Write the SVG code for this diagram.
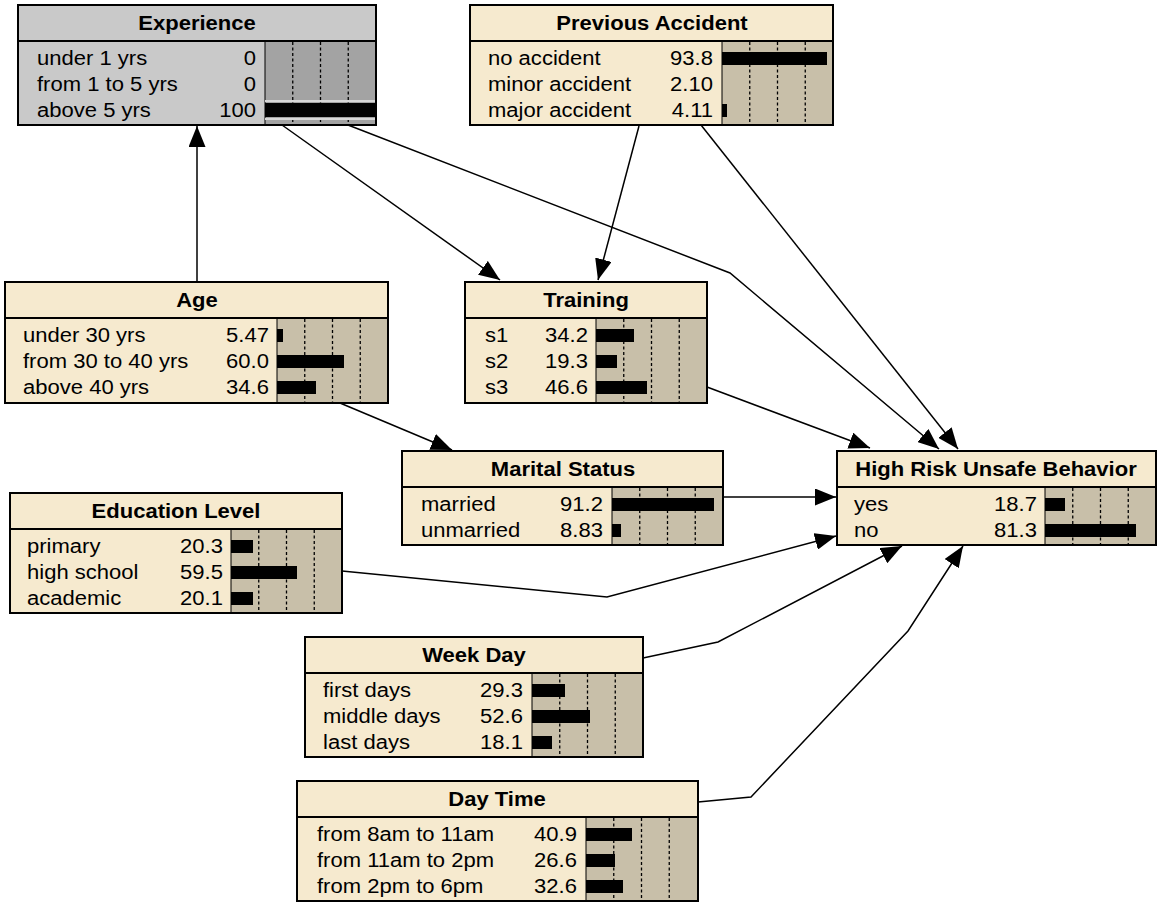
<svg xmlns="http://www.w3.org/2000/svg" width="1164" height="904" viewBox="0 0 1164 904">
<style>
.box{fill:#f6eacf;stroke:#000;stroke-width:2}
.sep{stroke:#000;stroke-width:2}
.bar{fill:#c8bfa9;stroke:#000;stroke-width:1}
.gbox{fill:#c9c9c9;stroke:#000;stroke-width:2}
.gbar{fill:#a3a3a3;stroke:#000;stroke-width:1}
.dash{stroke:#000;stroke-width:1.3;stroke-dasharray:3 2.5}
.fill{fill:#000}
.t{font-family:"Liberation Sans",Arial,Helvetica,sans-serif;font-size:19.5px;fill:#000}
.b{font-weight:bold;text-anchor:middle}
.v{text-anchor:end}
.edge{fill:none;stroke:#000;stroke-width:1.5;marker-end:url(#arr)}
</style>
<defs>
<marker id="arr" viewBox="0 0 21 17" refX="21" refY="8.5" markerWidth="21" markerHeight="17" markerUnits="userSpaceOnUse" orient="auto">
<path d="M0,0 L21,8.5 L0,17 z" fill="#000"/>
</marker>
</defs>
<rect width="1164" height="904" fill="#fff"/>

<g id="connectors">
<path class="edge" d="M197,282 L197,126"/>
<path class="edge" d="M282,125 L500,280"/>
<path class="edge" d="M348,125 L730,273 L939,449"/>
<path class="edge" d="M639,126 L598,280"/>
<path class="edge" d="M701,125 L958,449"/>
<path class="edge" d="M707,387 L870,448"/>
<path class="edge" d="M340,403 L452,450"/>
<path class="edge" d="M723,497 L836,497"/>
<path class="edge" d="M342,571 L607,597 L836,536"/>
<path class="edge" d="M643,658 L718,642 L902,546"/>
<path class="edge" d="M698,802 L751,797 L908,631 L963,546"/>
</g>

<g id="experience">
<rect class="gbox" x="18" y="5" width="358" height="120"/>
<rect class="gbar" x="265" y="41" width="111" height="84"/>
<line class="sep" x1="18" y1="41" x2="376" y2="41"/>
<line class="dash" x1="292.75" y1="42" x2="292.75" y2="124"/>
<line class="dash" x1="320.5" y1="42" x2="320.5" y2="124"/>
<line class="dash" x1="348.25" y1="42" x2="348.25" y2="124"/>
<line x1="265" y1="101" x2="376" y2="101" stroke="#d6d6d6" stroke-width="2"/>
<line x1="265" y1="119" x2="376" y2="119" stroke="#d6d6d6" stroke-width="2"/>
<rect class="fill" x="265" y="103" width="111" height="14"/>
<rect x="18" y="5" width="358" height="120" fill="none" stroke="#000" stroke-width="2"/>
<text class="t b" transform="translate(197,30) scale(1.13,1)">Experience</text>
<text class="t" transform="translate(37,65) scale(1.13,1)">under 1 yrs</text>
<text class="t v" transform="translate(256,65) scale(1.13,1)">0</text>
<text class="t" transform="translate(37,91) scale(1.13,1)">from 1 to 5 yrs</text>
<text class="t v" transform="translate(256,91) scale(1.13,1)">0</text>
<text class="t" transform="translate(37,117) scale(1.13,1)">above 5 yrs</text>
<text class="t v" transform="translate(256,117) scale(1.13,1)">100</text>
</g>

<g id="previous-accident">
<rect class="box" x="470" y="5" width="363" height="120"/>
<rect class="bar" x="722" y="41" width="111" height="84"/>
<line class="sep" x1="470" y1="41" x2="833" y2="41"/>
<line class="dash" x1="749.75" y1="42" x2="749.75" y2="124"/>
<line class="dash" x1="777.5" y1="42" x2="777.5" y2="124"/>
<line class="dash" x1="805.25" y1="42" x2="805.25" y2="124"/>
<rect class="fill" x="722" y="52" width="105" height="13"/>
<rect class="fill" x="722" y="104" width="5" height="13"/>
<rect x="470" y="5" width="363" height="120" fill="none" stroke="#000" stroke-width="2"/>
<text class="t b" transform="translate(652,30) scale(1.13,1)">Previous Accident</text>
<text class="t" transform="translate(488,65) scale(1.13,1)">no accident</text>
<text class="t v" transform="translate(713,65) scale(1.13,1)">93.8</text>
<text class="t" transform="translate(488,91) scale(1.13,1)">minor accident</text>
<text class="t v" transform="translate(713,91) scale(1.13,1)">2.10</text>
<text class="t" transform="translate(488,117) scale(1.13,1)">major accident</text>
<text class="t v" transform="translate(713,117) scale(1.13,1)">4.11</text>
</g>

<g id="age">
<rect class="box" x="5" y="282" width="383" height="121"/>
<rect class="bar" x="277" y="318" width="111" height="85"/>
<line class="sep" x1="5" y1="318" x2="388" y2="318"/>
<line class="dash" x1="304.75" y1="319" x2="304.75" y2="402"/>
<line class="dash" x1="332.5" y1="319" x2="332.5" y2="402"/>
<line class="dash" x1="360.25" y1="319" x2="360.25" y2="402"/>
<rect class="fill" x="277" y="329" width="6" height="13"/>
<rect class="fill" x="277" y="355" width="67" height="13"/>
<rect class="fill" x="277" y="381" width="39" height="13"/>
<rect x="5" y="282" width="383" height="121" fill="none" stroke="#000" stroke-width="2"/>
<text class="t b" transform="translate(197,307) scale(1.13,1)">Age</text>
<text class="t" transform="translate(23,342) scale(1.13,1)">under 30 yrs</text>
<text class="t v" transform="translate(269,342) scale(1.13,1)">5.47</text>
<text class="t" transform="translate(23,368) scale(1.13,1)">from 30 to 40 yrs</text>
<text class="t v" transform="translate(269,368) scale(1.13,1)">60.0</text>
<text class="t" transform="translate(23,394) scale(1.13,1)">above 40 yrs</text>
<text class="t v" transform="translate(269,394) scale(1.13,1)">34.6</text>
</g>

<g id="training">
<rect class="box" x="465" y="282" width="242" height="121"/>
<rect class="bar" x="596" y="318" width="111" height="85"/>
<line class="sep" x1="465" y1="318" x2="707" y2="318"/>
<line class="dash" x1="623.75" y1="319" x2="623.75" y2="402"/>
<line class="dash" x1="651.5" y1="319" x2="651.5" y2="402"/>
<line class="dash" x1="679.25" y1="319" x2="679.25" y2="402"/>
<rect class="fill" x="596" y="329" width="38" height="13"/>
<rect class="fill" x="596" y="355" width="21" height="13"/>
<rect class="fill" x="596" y="381" width="51" height="13"/>
<rect x="465" y="282" width="242" height="121" fill="none" stroke="#000" stroke-width="2"/>
<text class="t b" transform="translate(586,307) scale(1.13,1)">Training</text>
<text class="t" transform="translate(485,342) scale(1.13,1)">s1</text>
<text class="t v" transform="translate(588,342) scale(1.13,1)">34.2</text>
<text class="t" transform="translate(485,368) scale(1.13,1)">s2</text>
<text class="t v" transform="translate(588,368) scale(1.13,1)">19.3</text>
<text class="t" transform="translate(485,394) scale(1.13,1)">s3</text>
<text class="t v" transform="translate(588,394) scale(1.13,1)">46.6</text>
</g>

<g id="marital-status">
<rect class="box" x="402" y="451" width="321" height="94"/>
<rect class="bar" x="612" y="487" width="111" height="58"/>
<line class="sep" x1="402" y1="487" x2="723" y2="487"/>
<line class="dash" x1="639.75" y1="488" x2="639.75" y2="544"/>
<line class="dash" x1="667.5" y1="488" x2="667.5" y2="544"/>
<line class="dash" x1="695.25" y1="488" x2="695.25" y2="544"/>
<rect class="fill" x="612" y="498" width="102" height="13"/>
<rect class="fill" x="612" y="524" width="9" height="13"/>
<rect x="402" y="451" width="321" height="94" fill="none" stroke="#000" stroke-width="2"/>
<text class="t b" transform="translate(563,476) scale(1.13,1)">Marital Status</text>
<text class="t" transform="translate(421,511) scale(1.13,1)">married</text>
<text class="t v" transform="translate(603,511) scale(1.13,1)">91.2</text>
<text class="t" transform="translate(421,537) scale(1.13,1)">unmarried</text>
<text class="t v" transform="translate(603,537) scale(1.13,1)">8.83</text>
</g>

<g id="high-risk-unsafe-behavior">
<rect class="box" x="837" y="451" width="319" height="94"/>
<rect class="bar" x="1045" y="487" width="111" height="58"/>
<line class="sep" x1="837" y1="487" x2="1156" y2="487"/>
<line class="dash" x1="1072.75" y1="488" x2="1072.75" y2="544"/>
<line class="dash" x1="1100.5" y1="488" x2="1100.5" y2="544"/>
<line class="dash" x1="1128.25" y1="488" x2="1128.25" y2="544"/>
<rect class="fill" x="1045" y="498" width="20" height="13"/>
<rect class="fill" x="1045" y="524" width="91" height="13"/>
<rect x="837" y="451" width="319" height="94" fill="none" stroke="#000" stroke-width="2"/>
<text class="t b" transform="translate(996,476) scale(1.13,1)">High Risk Unsafe Behavior</text>
<text class="t" transform="translate(854,511) scale(1.13,1)">yes</text>
<text class="t v" transform="translate(1037,511) scale(1.13,1)">18.7</text>
<text class="t" transform="translate(854,537) scale(1.13,1)">no</text>
<text class="t v" transform="translate(1037,537) scale(1.13,1)">81.3</text>
</g>

<g id="education-level">
<rect class="box" x="10" y="493" width="332" height="120"/>
<rect class="bar" x="231" y="529" width="111" height="84"/>
<line class="sep" x1="10" y1="529" x2="342" y2="529"/>
<line class="dash" x1="258.75" y1="530" x2="258.75" y2="612"/>
<line class="dash" x1="286.5" y1="530" x2="286.5" y2="612"/>
<line class="dash" x1="314.25" y1="530" x2="314.25" y2="612"/>
<rect class="fill" x="231" y="540" width="22" height="13"/>
<rect class="fill" x="231" y="566" width="66" height="13"/>
<rect class="fill" x="231" y="592" width="22" height="13"/>
<rect x="10" y="493" width="332" height="120" fill="none" stroke="#000" stroke-width="2"/>
<text class="t b" transform="translate(176,518) scale(1.13,1)">Education Level</text>
<text class="t" transform="translate(27,553) scale(1.13,1)">primary</text>
<text class="t v" transform="translate(223,553) scale(1.13,1)">20.3</text>
<text class="t" transform="translate(27,579) scale(1.13,1)">high school</text>
<text class="t v" transform="translate(223,579) scale(1.13,1)">59.5</text>
<text class="t" transform="translate(27,605) scale(1.13,1)">academic</text>
<text class="t v" transform="translate(223,605) scale(1.13,1)">20.1</text>
</g>

<g id="week-day">
<rect class="box" x="305" y="637" width="338" height="120"/>
<rect class="bar" x="532" y="673" width="111" height="84"/>
<line class="sep" x1="305" y1="673" x2="643" y2="673"/>
<line class="dash" x1="559.75" y1="674" x2="559.75" y2="756"/>
<line class="dash" x1="587.5" y1="674" x2="587.5" y2="756"/>
<line class="dash" x1="615.25" y1="674" x2="615.25" y2="756"/>
<rect class="fill" x="532" y="684" width="33" height="13"/>
<rect class="fill" x="532" y="710" width="58" height="13"/>
<rect class="fill" x="532" y="736" width="20" height="13"/>
<rect x="305" y="637" width="338" height="120" fill="none" stroke="#000" stroke-width="2"/>
<text class="t b" transform="translate(474,662) scale(1.13,1)">Week Day</text>
<text class="t" transform="translate(323,697) scale(1.13,1)">first days</text>
<text class="t v" transform="translate(523,697) scale(1.13,1)">29.3</text>
<text class="t" transform="translate(323,723) scale(1.13,1)">middle days</text>
<text class="t v" transform="translate(523,723) scale(1.13,1)">52.6</text>
<text class="t" transform="translate(323,749) scale(1.13,1)">last days</text>
<text class="t v" transform="translate(523,749) scale(1.13,1)">18.1</text>
</g>

<g id="day-time">
<rect class="box" x="297" y="781" width="401" height="120"/>
<rect class="bar" x="586" y="817" width="112" height="84"/>
<line class="sep" x1="297" y1="817" x2="698" y2="817"/>
<line class="dash" x1="613.75" y1="818" x2="613.75" y2="900"/>
<line class="dash" x1="641.5" y1="818" x2="641.5" y2="900"/>
<line class="dash" x1="669.25" y1="818" x2="669.25" y2="900"/>
<rect class="fill" x="586" y="828" width="46" height="13"/>
<rect class="fill" x="586" y="854" width="29" height="13"/>
<rect class="fill" x="586" y="880" width="37" height="13"/>
<rect x="297" y="781" width="401" height="120" fill="none" stroke="#000" stroke-width="2"/>
<text class="t b" transform="translate(497,806) scale(1.13,1)">Day Time</text>
<text class="t" transform="translate(317,841) scale(1.13,1)">from 8am to 11am</text>
<text class="t v" transform="translate(577,841) scale(1.13,1)">40.9</text>
<text class="t" transform="translate(317,867) scale(1.13,1)">from 11am to 2pm</text>
<text class="t v" transform="translate(577,867) scale(1.13,1)">26.6</text>
<text class="t" transform="translate(317,893) scale(1.13,1)">from 2pm to 6pm</text>
<text class="t v" transform="translate(577,893) scale(1.13,1)">32.6</text>
</g>
</svg>
